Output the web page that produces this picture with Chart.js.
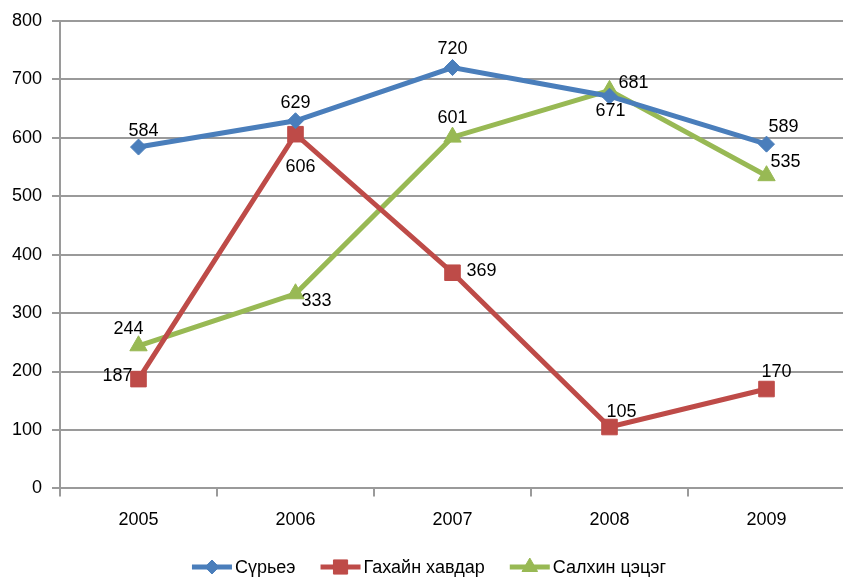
<!DOCTYPE html>
<html>
<head>
<meta charset="utf-8">
<script src="https://cdn.jsdelivr.net/npm/chart.js@4.4.1/dist/chart.umd.min.js"></script>
<style>
  html, body { margin: 0; padding: 0; background: #fff; overflow: hidden; }
  #wrap { width: 857px; height: 584px; }
</style>
</head>
<body>
<div id="wrap"><canvas id="lineChart"></canvas></div>
<script>
// Data
const years = ['2005', '2006', '2007', '2008', '2009'];
const tuberculosis = [584, 629, 720, 671, 589];   // Сүрьеэ
const mumps = [187, 606, 369, 105, 170];          // Гахайн хавдар
const chickenpox = [244, 333, 601, 681, 535];     // Салхин цэцэг
const seriesNames = ['Сүрьеэ', 'Гахайн хавдар', 'Салхин цэцэг'];

// label placement relative to each point (dx, dy)
const labelOffsets = [
    [[5, -16], [0, -18], [0, -19], [1, 15], [17, -17]],
    [[-21, -3], [5, 33], [29, -2], [12, -15], [10, -17]],
    [[-10, -17], [21, 7], [0, -19], [24, -7], [19, -14]]
];

const FONT = '"Liberation Sans", Arial, sans-serif';
const GRID = '#9a9a9a';

const pointLabels = {
    id: 'pointLabels',
    afterDatasetsDraw(chart) {
        const ctx = chart.ctx;
        ctx.save();
        ctx.font = '18px ' + FONT;
        ctx.fillStyle = '#000';
        ctx.textAlign = 'center';
        ctx.textBaseline = 'middle';
        chart.data.datasets.forEach((ds, i) => {
            chart.getDatasetMeta(i).data.forEach((pt, j) => {
                const off = labelOffsets[i][j];
                ctx.fillText(ds.data[j], pt.x + off[0], pt.y + off[1]);
            });
        });
        ctx.restore();
    }
};

// Excel-like legend: line with marker, then text
const lineLegend = {
    id: 'lineLegend',
    afterDraw(chart) {
        const ctx = chart.ctx;
        const y = 567, lineW = 40, gap = 3, spacing = 25;
        ctx.save();
        ctx.font = '18px ' + FONT;
        const items = chart.data.datasets.map(ds => ({ ds, w: lineW + gap + ctx.measureText(ds.label).width }));
        const total = items.reduce((s, it) => s + it.w, 0) + spacing * (items.length - 1);
        let x = 429 - total / 2;
        items.forEach(({ ds, w }) => {
            ctx.strokeStyle = ds.borderColor;
            ctx.lineWidth = 5;
            ctx.beginPath();
            ctx.moveTo(x, y);
            ctx.lineTo(x + lineW, y);
            ctx.stroke();
            ctx.fillStyle = ds.borderColor;
            ctx.lineWidth = 1;
            Chart.helpers.drawPoint(ctx, {
                pointStyle: ds.pointStyle, radius: ds.pointRadius - 1, rotation: 0, borderWidth: 1
            }, x + lineW / 2, y);
            ctx.fillStyle = '#000';
            ctx.textAlign = 'left';
            ctx.textBaseline = 'middle';
            ctx.fillText(ds.label, x + lineW + gap, y + 1);
            x += w + spacing;
        });
        ctx.restore();
    }
};

function series(label, data, color, style, radius) {
    return {
        label, data,
        borderColor: color,
        backgroundColor: color,
        borderWidth: 5,
        pointStyle: style,
        pointRadius: radius,
        pointHoverRadius: radius,
        pointBorderWidth: 1,
        tension: 0
    };
}

document.addEventListener('DOMContentLoaded', () => {
    new Chart(document.getElementById('lineChart'), {
        type: 'line',
        data: {
            labels: years,
            datasets: [
                series(seriesNames[0], tuberculosis, '#4a7ebb', 'rectRot', 8),
                series(seriesNames[1], mumps, '#be4b48', 'rect', 11),
                series(seriesNames[2], chickenpox, '#98b954', 'triangle', 10)
            ]
        },
        options: {
            responsive: true,
            maintainAspectRatio: false,
            animation: false,
            layout: { padding: { top: 20, right: 0, bottom: 40, left: 0 } },
            plugins: { legend: { display: false }, tooltip: { enabled: false } },
            scales: {
                x: {
                    offset: true,
                    grid: { offset: true, drawOnChartArea: false, color: GRID, lineWidth: 2, tickLength: 8 },
                    border: { color: GRID, width: 2 },
                    ticks: { color: '#000', padding: 13, font: { family: FONT, size: 18 } }
                },
                y: {
                    min: 0,
                    max: 800,
                    afterFit(scale) { scale.width = 60; },
                    grid: { color: GRID, lineWidth: 2, tickLength: 8 },
                    border: { color: GRID, width: 2 },
                    ticks: { stepSize: 100, color: '#000', padding: 10, font: { family: FONT, size: 18 } }
                }
            }
        },
        plugins: [pointLabels, lineLegend]
    });
});
</script>
</body>
</html>
